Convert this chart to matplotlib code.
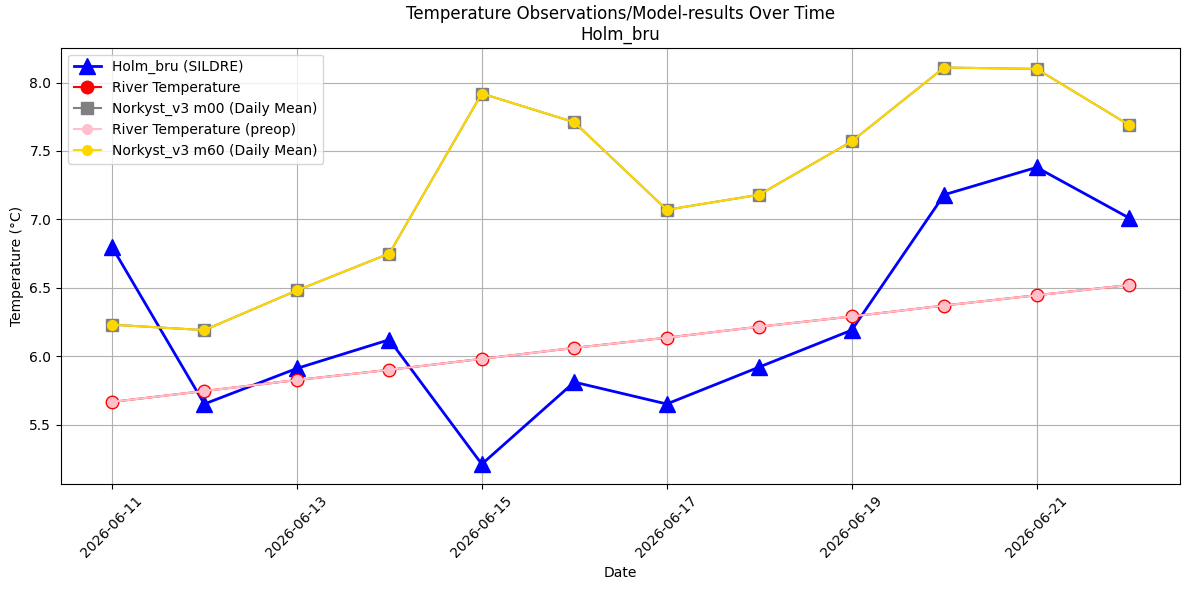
import matplotlib
matplotlib.use("Agg")
import matplotlib.pyplot as plt
import matplotlib.dates as mdates
import pandas as pd

dates = pd.date_range("2026-06-11", "2026-06-22", freq="D")
sildre = [6.80, 5.65, 5.91, 6.12, 5.21, 5.81, 5.65, 5.92, 6.19, 7.18, 7.38, 7.01]
river = [5.665, 5.745, 5.825, 5.90, 5.98, 6.06, 6.135, 6.215, 6.29, 6.37, 6.445, 6.52]
river_preop = [5.665, 5.745, 5.825, 5.90, 5.98, 6.06, 6.135, 6.215, 6.29, 6.37, 6.445, 6.52]
m00 = [6.23, 6.19, 6.48, 6.75, 7.92, 7.71, 7.07, 7.18, 7.57, 8.11, 8.10, 7.69]
m60 = [6.23, 6.19, 6.48, 6.75, 7.92, 7.71, 7.07, 7.18, 7.57, 8.11, 8.10, 7.69]

fig, ax = plt.subplots(figsize=(11.89, 5.9), dpi=100)
fig.subplots_adjust(left=61/1189, right=1180/1189, top=1-47.7/590, bottom=1-484/590)
ax.plot(dates, sildre, color="blue", marker="^", markersize=12, linewidth=2, label="Holm_bru (SILDRE)")
ax.plot(dates, river, color="red", marker="o", markersize=9, label="River Temperature")
ax.plot(dates, m00, color="gray", marker="s", markersize=9, label="Norkyst_v3 m00 (Daily Mean)")
ax.plot(dates, river_preop, color="pink", marker="o", markersize=7, label="River Temperature (preop)")
ax.plot(dates, m60, color="gold", marker="o", markersize=7, label="Norkyst_v3 m60 (Daily Mean)")

ax.set_title("Temperature Observations/Model-results Over Time\nHolm_bru")
ax.set_xlabel("Date")
ax.set_ylabel("Temperature (°C)")
ax.set_xticks(dates[::2])
ax.xaxis.set_major_formatter(mdates.DateFormatter("%Y-%m-%d"))
plt.setp(ax.get_xticklabels(), rotation=45)
ax.grid(True)
ax.legend(loc="upper left")
fig.savefig("out.png")
